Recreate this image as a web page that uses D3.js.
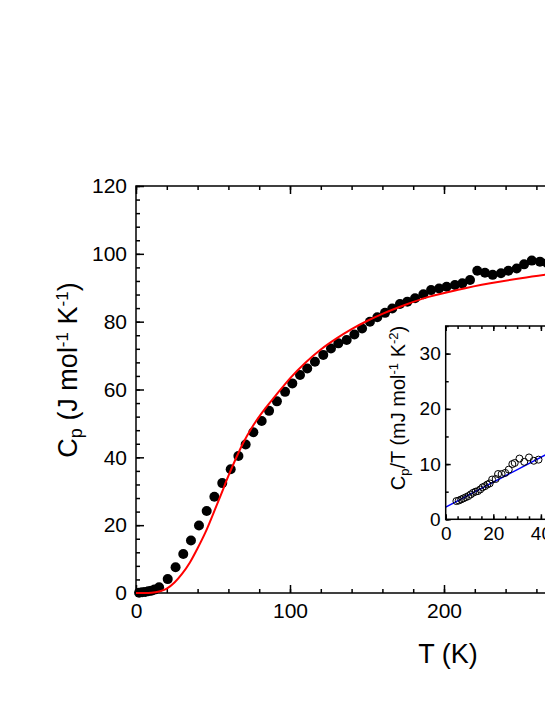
<!DOCTYPE html>
<html>
<head>
<meta charset="utf-8">
<script src="https://cdn.jsdelivr.net/npm/d3@7"></script>
<style>
  body { margin: 0; background: #fff; }
  text { font-family: Arial, "Liberation Sans", sans-serif; fill: #000; }
</style>
</head>
<body>
<div id="chart"></div>
<script>
// measured heat capacity (main panel)
const tempK = [2, 4, 6, 8, 10, 12, 15, 20.6, 25.7, 30.7, 35.7, 40.9, 45.9, 50.9, 56, 61.5, 66.5, 71.2, 76.2, 81.6,
    86.4, 91.5, 96.8, 101.5, 106.5, 111.2, 116.2, 121.6, 126.6, 131.4, 136.8, 141.8, 146.8, 151.9, 156.7, 161.7,
    166.4, 171.4, 176.2, 181.2, 186.6, 191.6, 196.8, 201.7, 207.1, 211.9, 216.9, 221.6, 226.6, 231.6, 237, 241.8,
    247.2, 252, 257, 262.3, 267];
const heatCap = [0.1, 0.2, 0.3, 0.5, 0.7, 1.0, 1.7, 4.1, 7.6, 11.5, 15.5, 19.9, 24.2, 28.4, 32.4, 36.5, 40.4, 43.8, 47.4, 50.7,
    53.7, 56.5, 59.3, 61.8, 64.3, 66.2, 68.2, 70.2, 72.1, 73.6, 74.6, 76.2, 78.0, 80, 81.3, 82.6,
    83.9, 85.2, 85.9, 86.9, 88.1, 89.3, 89.8, 90.3, 90.8, 91.3, 92.3, 95, 94.4, 93.8, 94.3, 95,
    95.7, 96.9, 98, 97.7, 97.3];

// fitted curve (red)
const fitT = [0, 5, 10, 15, 20, 25, 30, 35, 40, 45, 50, 55, 60, 65, 70, 75, 80, 85, 90, 100, 110, 120,
    130, 140, 150, 160, 175, 190, 210, 230, 250, 270, 300];
const fitCp = [0, 0.02, 0.1, 0.45, 1.3, 3.1, 5.7, 9.0, 13.2, 17.8, 23.2, 28.8, 34.5, 39.8, 44.6, 48.6, 52.0, 55.0, 57.8, 63.3, 67.9, 71.8,
    75.0, 77.8, 80.2, 82.3, 85.0, 87.3, 89.5, 91.3, 92.8, 94.1, 95.8];

// inset: Cp/T at low temperature
const insetT = [4.5, 5.5, 6.5, 7.5, 8.5, 9.5, 10.5, 11.5, 12.5, 13.5, 14.5, 15.5, 16.5, 17.5, 18.5, 19.5, 21, 22,
    23.5, 25, 26.5, 28, 29, 31, 33, 35, 37, 39];
const insetCpT = [3.3, 3.4, 3.6, 3.8, 4.0, 4.2, 4.5, 4.8, 5.0, 5.1, 5.4, 5.8, 6.0, 6.3, 6.5, 7.2, 7.3, 8.2,
    8.2, 8.4, 9.0, 10.0, 10.2, 11.0, 10.4, 11.2, 10.6, 10.8];
const lineT = [0, 50];
const lineCpT = [2.2, 13.5];

const W = 545, H = 705;
const svg = d3.select("#chart").append("svg")
    .attr("width", W).attr("height", H);

// main panel scales
const x = d3.scaleLinear().domain([0, 300]).range([136, 598]);
const y = d3.scaleLinear().domain([0, 120]).range([593, 186]);

function drawAxes(g, xs, ys, opt) {
    const [x0, x1] = xs.range(), [y0, y1] = ys.range();
    // minor ticks
    g.append("g").attr("transform", `translate(0,${y0})`)
        .call(d3.axisBottom(xs).tickValues(opt.xMinor).tickSize(-opt.minor).tickFormat(""));
    g.append("g").attr("transform", `translate(0,${y1})`)
        .call(d3.axisTop(xs).tickValues(opt.xMinor).tickSize(-opt.minor).tickFormat(""));
    g.append("g").attr("transform", `translate(${x0},0)`)
        .call(d3.axisLeft(ys).tickValues(opt.yMinor).tickSize(-opt.minor).tickFormat(""));
    g.append("g").attr("transform", `translate(${x1},0)`)
        .call(d3.axisRight(ys).tickValues(opt.yMinor).tickSize(-opt.minor).tickFormat(""));
    // major ticks with labels
    g.append("g").attr("transform", `translate(0,${y0})`)
        .call(d3.axisBottom(xs).tickValues(opt.xMajor).tickSize(-opt.major).tickPadding(opt.xPad))
        .selectAll("text").style("font-size", opt.font + "px");
    g.append("g").attr("transform", `translate(0,${y1})`)
        .call(d3.axisTop(xs).tickValues(opt.xMajor).tickSize(-opt.major).tickFormat(""));
    g.append("g").attr("transform", `translate(${x0},0)`)
        .call(d3.axisLeft(ys).tickValues(opt.yMajor).tickSize(-opt.major).tickPadding(opt.yPad))
        .selectAll("text").style("font-size", opt.font + "px");
    g.append("g").attr("transform", `translate(${x1},0)`)
        .call(d3.axisRight(ys).tickValues(opt.yMajor).tickSize(-opt.major).tickFormat(""));
    g.selectAll(".domain").remove();
    g.selectAll(".tick line").attr("stroke", "#000").attr("stroke-width", 1.5);
    g.selectAll(".tick text").attr("fill", "#000");
    g.append("rect")
        .attr("x", x0).attr("y", y1).attr("width", x1 - x0).attr("height", y0 - y1)
        .attr("fill", "none").attr("stroke", "#000").attr("stroke-width", 1.5);
}

const main = svg.append("g");
drawAxes(main, x, y, {
    xMajor: [0, 100, 200, 300], xMinor: d3.range(0, 301, 20),
    yMajor: d3.range(0, 121, 20), yMinor: d3.range(0, 121, 4),
    major: 8, minor: 4, font: 21, xPad: 10, yPad: 9
});

// data points
main.append("g").selectAll("circle")
    .data(tempK)
    .join("circle")
    .attr("cx", d => x(d))
    .attr("cy", (d, i) => y(heatCap[i]))
    .attr("r", 5)
    .attr("fill", "#000");

// fitted curve
main.append("path")
    .datum(fitT.map((t, i) => [t, fitCp[i]]))
    .attr("fill", "none")
    .attr("stroke", "#ff0000")
    .attr("stroke-width", 2)
    .attr("d", d3.line().curve(d3.curveMonotoneX).x(d => x(d[0])).y(d => y(d[1])));

// axis titles
main.append("text")
    .attr("x", 448).attr("y", 663)
    .attr("text-anchor", "middle")
    .style("font-size", "27px")
    .text("T (K)");

const yTitle = main.append("text")
    .attr("transform", "translate(77,370) rotate(-90)")
    .attr("text-anchor", "middle")
    .style("font-size", "27px");
yTitle.append("tspan").text("C");
yTitle.append("tspan").attr("baseline-shift", "-30%").style("font-size", "18px").text("p");
yTitle.append("tspan").text(" (J mol");
yTitle.append("tspan").attr("baseline-shift", "55%").style("font-size", "17px").text("-1");
yTitle.append("tspan").text(" K");
yTitle.append("tspan").attr("baseline-shift", "55%").style("font-size", "17px").text("-1");
yTitle.append("tspan").text(")");

// inset
const xi = d3.scaleLinear().domain([0, 50]).range([445.7, 564.7]);
const yi = d3.scaleLinear().domain([0, 35]).range([519.3, 326]);
const inset = svg.append("g");
inset.append("rect")
    .attr("x", 445.7).attr("y", 326).attr("width", 119).attr("height", 193.3)
    .attr("fill", "#fff");

svg.append("clipPath").attr("id", "insetClip")
    .append("rect").attr("x", 445.7).attr("y", 326).attr("width", 119).attr("height", 193.3);

const insetPlot = inset.append("g").attr("clip-path", "url(#insetClip)");
insetPlot.append("path")
    .datum(lineT.map((t, i) => [t, lineCpT[i]]))
    .attr("fill", "none")
    .attr("stroke", "#0000ff")
    .attr("stroke-width", 1.5)
    .attr("d", d3.line().x(d => xi(d[0])).y(d => yi(d[1])));

insetPlot.append("g").selectAll("circle")
    .data(insetT)
    .join("circle")
    .attr("cx", d => xi(d))
    .attr("cy", (d, i) => yi(insetCpT[i]))
    .attr("r", 3.5)
    .attr("fill", "none")
    .attr("stroke", "#000")
    .attr("stroke-width", 1);

drawAxes(inset, xi, yi, {
    xMajor: [0, 20, 40], xMinor: d3.range(0, 51, 5),
    yMajor: [0, 10, 20, 30], yMinor: d3.range(0, 36, 5),
    major: 5, minor: 3, font: 19, xPad: 7, yPad: 5
});

const iTitle = inset.append("text")
    .attr("transform", "translate(405,408) rotate(-90)")
    .attr("text-anchor", "middle")
    .style("font-size", "20px");
iTitle.append("tspan").text("C");
iTitle.append("tspan").attr("baseline-shift", "-30%").style("font-size", "13px").text("p");
iTitle.append("tspan").text("/T (mJ mol");
iTitle.append("tspan").attr("baseline-shift", "55%").style("font-size", "13px").text("-1");
iTitle.append("tspan").text(" K");
iTitle.append("tspan").attr("baseline-shift", "55%").style("font-size", "13px").text("-2");
iTitle.append("tspan").text(")");
</script>
</body>
</html>
